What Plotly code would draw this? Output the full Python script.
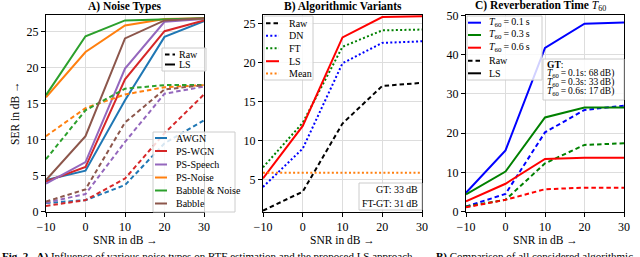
import plotly.graph_objects as go

# ---------------- data ----------------
snr = [-10, 0, 10, 20, 30]
snr_ticks = [-10, 0, 10, 20, 30]

# Panel A: noise types (LS = solid, Raw = dashed)
noise_names = ["AWGN", "PS-WGN", "PS-Speech", "PS-Noise", "Babble & Noise", "Babble"]
noise_colors = ["#1f77b4", "#d62728", "#9467bd", "#ff7f0e", "#2ca02c", "#8c564b"]
awgn_ls = [4.4, 5.7, 15.5, 24.3, 26.5]
awgn_raw = [1.2, 1.6, 3.7, 9.5, 12.7]
pswgn_ls = [4.2, 6.2, 18.4, 25.1, 26.6]
pswgn_raw = [0.8, 1.6, 4.6, 10.9, 16.3]
psspeech_ls = [3.9, 6.9, 19.9, 26.4, 26.8]
psspeech_raw = [1.25, 2.45, 9.7, 16.4, 17.4]
psnoise_ls = [15.9, 22.2, 25.9, 26.8, 26.9]
psnoise_raw = [10.5, 14.4, 16.3, 17.3, 17.6]
babnoise_ls = [16.2, 24.4, 26.6, 26.8, 26.9]
babnoise_raw = [7.3, 14.1, 17.1, 17.6, 17.6]
babble_ls = [4.4, 10.5, 24.1, 26.6, 26.9]
babble_raw = [1.4, 3.1, 12.4, 17.0, 17.6]
a_yticks = [0, 5, 10, 15, 20, 25]

# Panel B: algorithmic variants
b_names = ["Raw", "DN", "FT", "LS", "Mean"]
b_colors = ["black", "#0000ff", "#008000", "#ff0000", "#ff7f0e"]
b_raw = [1.07, 3.5, 12.2, 17.0, 17.4]
b_dn = [4.1, 9.0, 19.9, 22.5, 22.7]
b_ft = [6.6, 12.3, 22.0, 24.1, 24.2]
b_ls = [5.2, 11.9, 23.2, 25.8, 25.9]
b_mean = [5.9, 5.9, 5.9, 5.9, 5.9]
b_yticks = [5, 10, 15, 20, 25]
b_box_lines = ["GT: 33\u2009dB", "FT-GT: 31\u2009dB"]

# Panel C: reverberation time
c_names = ["<i>T</i><sub>60</sub>\u2009=\u20090.1\u2009s", "<i>T</i><sub>60</sub>\u2009=\u20090.3\u2009s",
           "<i>T</i><sub>60</sub>\u2009=\u20090.6\u2009s"]
c_colors = ["#0000ff", "#008000", "#ff0000"]
c01_ls = [4.8, 15.6, 41.7, 47.9, 48.2]
c01_raw = [1.3, 4.5, 20.2, 25.9, 27.0]
c03_ls = [4.4, 10.2, 24.0, 26.5, 26.5]
c03_raw = [1.3, 3.0, 12.3, 17.0, 17.4]
c06_ls = [2.6, 7.1, 13.4, 13.7, 13.7]
c06_raw = [1.1, 3.0, 5.7, 6.1, 6.1]
c_yticks = [0, 10, 20, 30, 40, 50]
c_box_lines = ["<b>GT</b>:",
               "<i>T</i><sub>60</sub>\u2009=\u20090.1s: 68\u2009dB)",
               "<i>T</i><sub>60</sub>\u2009=\u20090.3s: 33\u2009dB)",
               "<i>T</i><sub>60</sub>\u2009=\u20090.6s: 17\u2009dB)"]

# ---------------- layout helpers ----------------
W, H = 640, 257
FONT = "Liberation Serif"
DASH = "4.5px,3px"
DOT = "2px,2.3px"


def px(x):
    return x / W


def py(y):
    return 1 - y / H


fig = go.Figure()

# Panel A traces
a_ls_all = [awgn_ls, pswgn_ls, psspeech_ls, psnoise_ls, babnoise_ls, babble_ls]
a_raw_all = [awgn_raw, pswgn_raw, psspeech_raw, psnoise_raw, babnoise_raw, babble_raw]
for name, col, ls, raw in zip(noise_names, noise_colors, a_ls_all, a_raw_all):
    fig.add_trace(go.Scatter(x=snr, y=raw, mode="lines", name=name + " Raw",
                             line=dict(color=col, width=2, dash=DASH),
                             xaxis="x", yaxis="y", showlegend=False))
    fig.add_trace(go.Scatter(x=snr, y=ls, mode="lines", name=name + " LS",
                             line=dict(color=col, width=2),
                             xaxis="x", yaxis="y", showlegend=False))

# Panel B traces
b_series = [b_raw, b_dn, b_ft, b_ls, b_mean]
b_dashes = [DASH, DOT, DOT, "solid", DOT]
for name, col, ys, d in zip(b_names, b_colors, b_series, b_dashes):
    fig.add_trace(go.Scatter(x=snr, y=ys, mode="lines", name=name,
                             line=dict(color=col, width=2, dash=d),
                             xaxis="x2", yaxis="y2", showlegend=False))

# Panel C traces
c_ls_all = [c01_ls, c03_ls, c06_ls]
c_raw_all = [c01_raw, c03_raw, c06_raw]
for name, col, ls, raw in zip(c_names, c_colors, c_ls_all, c_raw_all):
    fig.add_trace(go.Scatter(x=snr, y=raw, mode="lines", name=name + " Raw",
                             line=dict(color=col, width=2, dash=DASH),
                             xaxis="x3", yaxis="y3", showlegend=False))
    fig.add_trace(go.Scatter(x=snr, y=ls, mode="lines", name=name + " LS",
                             line=dict(color=col, width=2),
                             xaxis="x3", yaxis="y3", showlegend=False))

axis_common = dict(showline=True, linecolor="black", linewidth=1, mirror=True,
                   ticks="outside", ticklen=4, tickwidth=1, tickcolor="black",
                   showgrid=True, gridcolor="#dddddd", gridwidth=1, zeroline=False,
                   tickfont=dict(family=FONT, size=12, color="black"), automargin=False)

panels = [
    dict(x0=46, x1=204, y0=15, y1=212, yr=[-0.05, 27.35], yt=a_yticks),
    dict(x0=263, x1=422, y0=15, y1=212, yr=[0.9, 26.06], yt=b_yticks),
    dict(x0=466, x1=624, y0=15, y1=212, yr=[-0.1, 50.1], yt=c_yticks),
]
layout_axes = {}
for i, p in enumerate(panels):
    sfx = "" if i == 0 else str(i + 1)
    layout_axes["xaxis" + sfx] = dict(axis_common, domain=[px(p["x0"]), px(p["x1"])],
                                      range=[-10, 30], tickvals=snr_ticks,
                                      anchor="y" + sfx)
    layout_axes["yaxis" + sfx] = dict(axis_common, domain=[py(p["y1"]), py(p["y0"])],
                                      range=p["yr"], tickvals=p["yt"],
                                      anchor="x" + sfx)

shapes = []
annotations = []


def text(x, y, s, size=10, xanchor="left", yanchor="middle", angle=0):
    annotations.append(dict(x=px(x), y=py(y), xref="paper", yref="paper", text=s,
                            showarrow=False, xanchor=xanchor, yanchor=yanchor,
                            textangle=angle, borderpad=0,
                            font=dict(family=FONT, size=size, color="black")))


def box(x0, y0, x1, y1):
    shapes.append(dict(type="rect", xref="paper", yref="paper", x0=px(x0), x1=px(x1),
                       y0=py(y1), y1=py(y0), fillcolor="rgba(255,255,255,0.82)",
                       line=dict(color="#cccccc", width=1), layer="above"))


def sample(x0, x1, y, col, dash):
    shapes.append(dict(type="line", xref="paper", yref="paper", x0=px(x0), x1=px(x1),
                       y0=py(y), y1=py(y), line=dict(color=col, width=2, dash=dash),
                       layer="above"))


# Titles
text(125, 6, "<b>A) Noise Types</b>", size=11.5, xanchor="center")
text(342.5, 6, "<b>B) Algorithmic Variants</b>", size=11.5, xanchor="center")
text(540, 6, "<b>C) Reverberation Time </b><i>T</i><sub>60</sub>", size=11.5, xanchor="center")

# Axis titles
for p in panels:
    text((p["x0"] + p["x1"]) / 2, 240, "SNR in dB \u2192", size=11.5, xanchor="center")
text(15, 113, "SER in dB \u2192", size=11.5, xanchor="center", angle=-90)

# Panel A legends
box(162, 48, 206, 71)
for (lab, d), yy in zip([("Raw", DASH), ("LS", "solid")], [54.5, 64.5]):
    sample(165, 175, yy, "black", d)
    text(178, yy, lab)
box(153, 132, 235, 212)
for name, col, yy in zip(noise_names, noise_colors, [138, 151, 164.5, 177.5, 190.5, 203.5]):
    sample(155, 167, yy, col, "solid")
    text(175, yy, name)

# Panel B legend and box
box(264, 16, 313, 80)
for name, col, d, yy in zip(b_names, b_colors, b_dashes, [23.3, 35.7, 48.3, 61.2, 73.5]):
    sample(266, 279, yy, col, d)
    text(288, yy, name)
box(359, 183, 422, 210)
for s, yy in zip(b_box_lines, [189.5, 203]):
    text(419, yy, s, xanchor="right")

# Panel C legend and box
box(467, 16, 542, 80)
c_leg_labels = c_names + ["Raw", "LS"]
c_leg_cols = c_colors + ["black", "black"]
c_leg_dash = ["solid", "solid", "solid", DASH, "solid"]
for lab, col, d, yy in zip(c_leg_labels, c_leg_cols, c_leg_dash, [22.7, 35, 47.7, 60.7, 73.3]):
    sample(468, 481, yy, col, d)
    text(488, yy, lab)
box(543, 59, 624, 100)
for s, yy in zip(c_box_lines, [64.5, 73.5, 82.5, 91.5]):
    text(546, yy, s, size=9.5)

# Caption (cut off at the bottom like the reference)
text(1, 249, "<b>Fig. 2.</b>  <b>A)</b> Influence of various noise types on RTF estimation and the proposed LS approach.",
     size=11, yanchor="top")
text(435, 249, "<b>B)</b> Comparison of all considered algorithmic", size=11, yanchor="top")

fig.update_layout(width=W, height=H, margin=dict(l=0, r=0, t=0, b=0),
                  paper_bgcolor="white", plot_bgcolor="white",
                  shapes=shapes, annotations=annotations, showlegend=False,
                  font=dict(family=FONT, size=11, color="black"), **layout_axes)

fig.write_html("out.html", config={"displayModeBar": False},
               post_script="document.body.style.margin='0';")
